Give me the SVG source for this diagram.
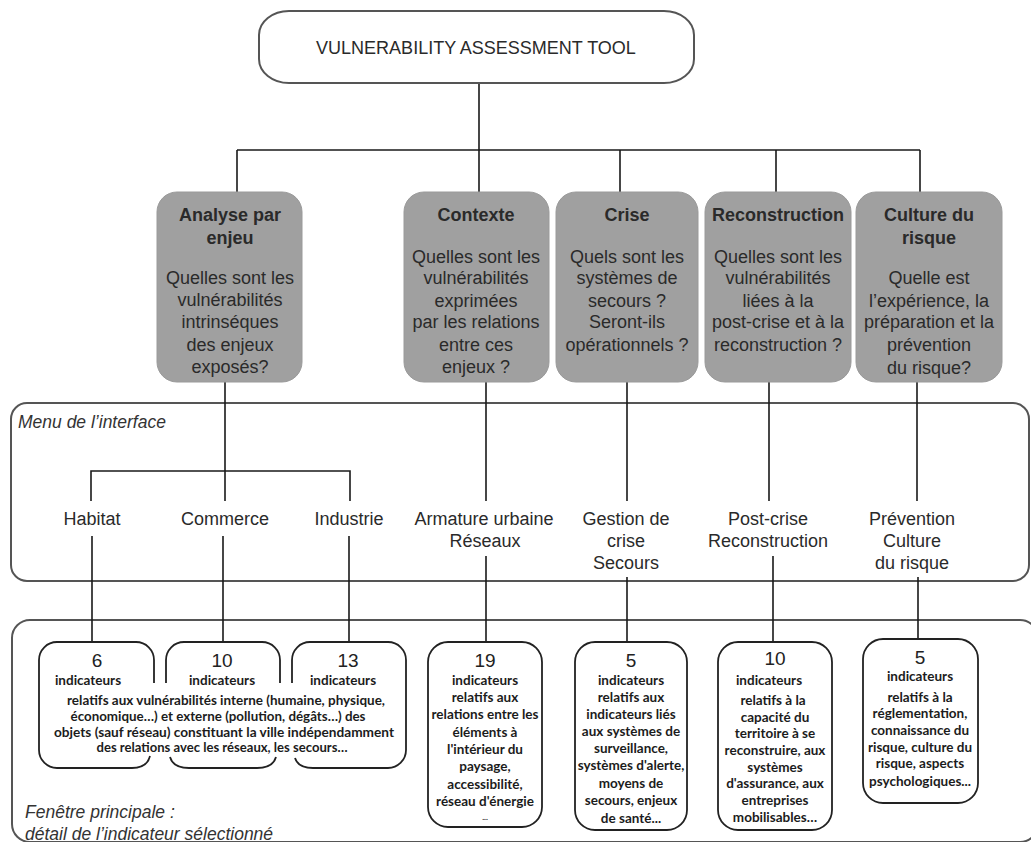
<svg xmlns="http://www.w3.org/2000/svg" width="1031" height="842" viewBox="0 0 1031 842">
  <style>
    .bg { fill: #ffffff; }
    .panel { fill: none; stroke: #555; stroke-width: 2; }
    .root { fill: #ffffff; stroke: #555; stroke-width: 2; }
    .theme { fill: #a0a0a0; stroke: #9a9a9a; stroke-width: 1; }
    .ind { fill: none; stroke: #222; stroke-width: 1.8; }
    .wire { fill: none; stroke: #1a1a1a; stroke-width: 1.6; }
    text { font-family: "Liberation Sans", Arial, sans-serif; fill: #2a2a2a; text-anchor: middle; }
    .t18 { font-size: 18px; }
    .bold { font-weight: bold; }
    .cap { font-size: 17.5px; font-style: italic; text-anchor: start; fill: #333; }
    .num { font-size: 19px; fill: #222; }
    .small { font-family: Lato, "Open Sans", sans-serif; font-size: 13.5px; font-weight: bold; fill: #1c1c1c; }
  </style>

  <rect class="bg" x="0" y="0" width="1031" height="842"/>

  <!-- panels -->
  <g id="menu-panel">
    <rect class="panel" x="11" y="403" width="1018" height="178" rx="16" ry="16"/>
    <text class="cap" x="18" y="428">Menu de l’interface</text>
  </g>
  <g id="main-window">
    <rect class="panel" x="12" y="620" width="1026" height="222" rx="18" ry="18"/>
    <text class="cap" x="25" y="818">Fenêtre principale :</text>
    <text class="cap" x="25" y="840">détail de l’indicateur sélectionné</text>
  </g>

  <!-- connectors -->
  <g id="connectors">
    <path class="wire" d="M479,83 V150 M237,150 H920 M237,150 V192 M479,150 V192 M620,150 V192 M776,150 V192 M920,150 V192"/>
    <path class="wire" d="M225,382 V501 M91,501 V471 H350 V501"/>
    <path class="wire" d="M486,382 V501 M627,382 V501 M769,382 V501 M917,382 V501"/>
    <path class="wire" d="M92,536 V642 M223,536 V642 M349,536 V642 M486,556 V642 M627,577 V642 M773,556 V642 M918,577 V639"/>
  </g>

  <!-- root -->
  <g id="root">
    <rect class="root" x="259" y="11" width="435" height="72" rx="30" ry="24"/>
    <text class="t18" x="476" y="54">VULNERABILITY ASSESSMENT TOOL</text>
  </g>

  <!-- themes -->
  <g id="analyse">
    <rect class="theme" x="157" y="192" width="145" height="190" rx="20" ry="20"/>
    <text class="t18 bold" x="230" y="221">Analyse par</text>
    <text class="t18 bold" x="230" y="244">enjeu</text>
    <text class="t18" x="230" y="284">Quelles sont les</text>
    <text class="t18" x="230" y="306">vulnérabilités</text>
    <text class="t18" x="230" y="328">intrinséques</text>
    <text class="t18" x="230" y="351">des enjeux</text>
    <text class="t18" x="230" y="373">exposés?</text>
  </g>
  <g id="contexte">
    <rect class="theme" x="404" y="192" width="145" height="190" rx="20" ry="20"/>
    <text class="t18 bold" x="476" y="221">Contexte</text>
    <text class="t18" x="476" y="263">Quelles sont les</text>
    <text class="t18" x="476" y="284">vulnérabilités</text>
    <text class="t18" x="476" y="307">exprimées</text>
    <text class="t18" x="476" y="328">par les relations</text>
    <text class="t18" x="476" y="351">entre ces</text>
    <text class="t18" x="476" y="373">enjeux ?</text>
  </g>
  <g id="crise">
    <rect class="theme" x="556" y="192" width="142" height="190" rx="20" ry="20"/>
    <text class="t18 bold" x="627" y="221">Crise</text>
    <text class="t18" x="627" y="263">Quels sont les</text>
    <text class="t18" x="627" y="284">systèmes de</text>
    <text class="t18" x="627" y="307">secours ?</text>
    <text class="t18" x="627" y="328">Seront-ils</text>
    <text class="t18" x="627" y="351">opérationnels ?</text>
  </g>
  <g id="reconstruction">
    <rect class="theme" x="705" y="192" width="146" height="190" rx="20" ry="20"/>
    <text class="t18 bold" x="778" y="221">Reconstruction</text>
    <text class="t18" x="778" y="263">Quelles sont les</text>
    <text class="t18" x="778" y="284">vulnérabilités</text>
    <text class="t18" x="778" y="307">liées à la</text>
    <text class="t18" x="778" y="328">post-crise et à la</text>
    <text class="t18" x="778" y="351">reconstruction ?</text>
  </g>
  <g id="culture">
    <rect class="theme" x="856" y="192" width="146" height="190" rx="20" ry="20"/>
    <text class="t18 bold" x="929" y="221">Culture du</text>
    <text class="t18 bold" x="929" y="244">risque</text>
    <text class="t18" x="929" y="284">Quelle est</text>
    <text class="t18" x="929" y="307">l’expérience, la</text>
    <text class="t18" x="929" y="328">préparation et la</text>
    <text class="t18" x="929" y="351">prévention</text>
    <text class="t18" x="929" y="374">du risque?</text>
  </g>

  <!-- menu entries -->
  <g id="menu-habitat"><text class="t18" x="92" y="525">Habitat</text></g>
  <g id="menu-commerce"><text class="t18" x="225" y="525">Commerce</text></g>
  <g id="menu-industrie"><text class="t18" x="349" y="525">Industrie</text></g>
  <g id="menu-armature">
    <text class="t18" x="484" y="525">Armature urbaine</text>
    <text class="t18" x="485" y="547">Réseaux</text>
  </g>
  <g id="menu-gestion">
    <text class="t18" x="626" y="525">Gestion de</text>
    <text class="t18" x="626" y="547">crise</text>
    <text class="t18" x="626" y="569">Secours</text>
  </g>
  <g id="menu-postcrise">
    <text class="t18" x="768" y="525">Post-crise</text>
    <text class="t18" x="768" y="547">Reconstruction</text>
  </g>
  <g id="menu-prevention">
    <text class="t18" x="912" y="525">Prévention</text>
    <text class="t18" x="912" y="547">Culture</text>
    <text class="t18" x="912" y="569">du risque</text>
  </g>

  <!-- indicator cards: habitat / commerce / industrie share one description -->
  <g id="ind-habitat">
    <path class="ind" d="M154,683 V660 A18,18 0 0 0 136,642 H57 A18,18 0 0 0 39,660 V750 A18,18 0 0 0 57,768 H132 Q147,768 150,756"/>
    <text class="num" x="97" y="667">6</text>
    <text class="small" x="88" y="685">indicateurs</text>
  </g>
  <g id="ind-commerce">
    <path class="ind" d="M166,683 V660 A18,18 0 0 1 184,642 H262 A18,18 0 0 1 280,660 V683 M170,757 Q173,768 189,768 H257 Q273,768 276,757"/>
    <text class="num" x="222" y="667">10</text>
    <text class="small" x="222" y="685">indicateurs</text>
  </g>
  <g id="ind-industrie">
    <path class="ind" d="M292,683 V660 A18,18 0 0 1 310,642 H388 A18,18 0 0 1 406,660 V750 A18,18 0 0 1 388,768 H313 Q298,768 295,758"/>
    <text class="num" x="348" y="667">13</text>
    <text class="small" x="343" y="685">indicateurs</text>
  </g>
  <g id="ind-shared-text">
    <text class="small" x="226" y="705" textLength="318" lengthAdjust="spacingAndGlyphs">relatifs aux vulnérabilités interne (humaine, physique,</text>
    <text class="small" x="218" y="721" textLength="295" lengthAdjust="spacingAndGlyphs">économique…) et externe (pollution, dégâts…) des</text>
    <text class="small" x="224" y="737" textLength="340" lengthAdjust="spacingAndGlyphs">objets (sauf réseau) constituant la ville indépendamment</text>
    <text class="small" x="222" y="752" textLength="251" lengthAdjust="spacingAndGlyphs">des relations avec les réseaux, les secours…</text>
  </g>

  <g id="ind-armature">
    <rect class="ind" x="428" y="642" width="114" height="185" rx="20" ry="20"/>
    <text class="num" x="485" y="667">19</text>
    <text class="small" x="485" y="685">indicateurs</text>
    <text class="small" x="485" y="702">relatifs aux</text>
    <text class="small" x="485" y="719">relations entre les</text>
    <text class="small" x="485" y="737">éléments à</text>
    <text class="small" x="485" y="754">l'intérieur du</text>
    <text class="small" x="485" y="771">paysage,</text>
    <text class="small" x="485" y="789">accessibilité,</text>
    <text class="small" x="485" y="806">réseau d'énergie</text>
    <text class="small" x="485" y="820" style="font-size:8px">...</text>
  </g>
  <g id="ind-gestion">
    <rect class="ind" x="575" y="642" width="112" height="188" rx="20" ry="20"/>
    <text class="num" x="631" y="667">5</text>
    <text class="small" x="631" y="685">indicateurs</text>
    <text class="small" x="631" y="702">relatifs aux</text>
    <text class="small" x="631" y="719">indicateurs liés</text>
    <text class="small" x="631" y="736">aux systèmes de</text>
    <text class="small" x="631" y="753">surveillance,</text>
    <text class="small" x="631" y="770">systèmes d'alerte,</text>
    <text class="small" x="631" y="788">moyens de</text>
    <text class="small" x="631" y="805">secours, enjeux</text>
    <text class="small" x="631" y="823">de santé...</text>
  </g>
  <g id="ind-postcrise">
    <rect class="ind" x="718" y="642" width="114" height="188" rx="20" ry="20"/>
    <text class="num" x="775" y="665">10</text>
    <text class="small" x="769" y="685">indicateurs</text>
    <text class="small" x="773" y="705">relatifs à la</text>
    <text class="small" x="775" y="722">capacité du</text>
    <text class="small" x="775" y="738">territoire à se</text>
    <text class="small" x="775" y="755">reconstruire, aux</text>
    <text class="small" x="775" y="772">systèmes</text>
    <text class="small" x="775" y="788">d'assurance, aux</text>
    <text class="small" x="775" y="805">entreprises</text>
    <text class="small" x="775" y="822">mobilisables…</text>
  </g>
  <g id="ind-prevention">
    <rect class="ind" x="863" y="639" width="115" height="164" rx="20" ry="20"/>
    <text class="num" x="920" y="664">5</text>
    <text class="small" x="920" y="681">indicateurs</text>
    <text class="small" x="920" y="702">relatifs à la</text>
    <text class="small" x="920" y="718">réglementation,</text>
    <text class="small" x="920" y="735">connaissance du</text>
    <text class="small" x="920" y="752">risque, culture du</text>
    <text class="small" x="920" y="768">risque, aspects</text>
    <text class="small" x="920" y="786">psychologiques...</text>
  </g>
</svg>
